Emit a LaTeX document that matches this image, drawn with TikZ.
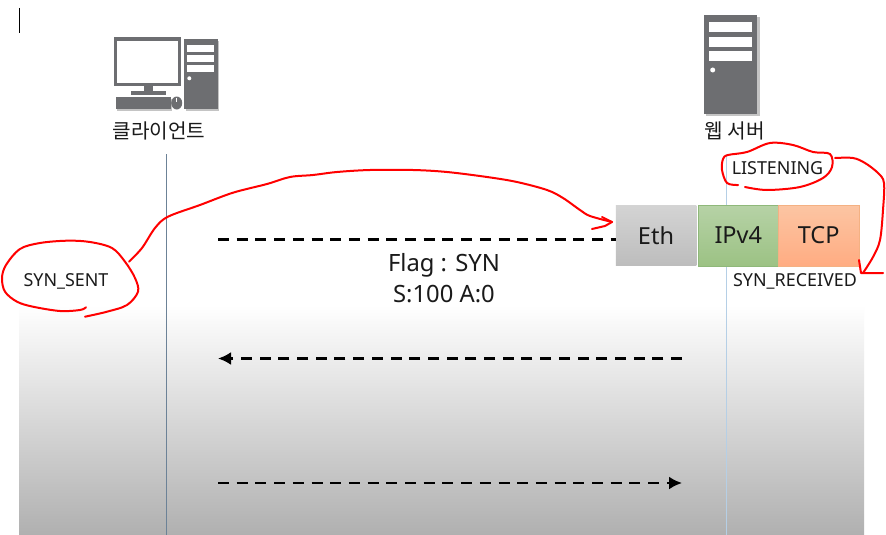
\documentclass[tikz,border=0pt]{standalone}
\usepackage{fontspec}
\setmainfont{Noto Sans}
\newfontfamily\krfont{Noto Sans CJK KR}
\usetikzlibrary{arrows.meta}
\definecolor{icongray}{HTML}{6D6E71}
\definecolor{iconshadow}{HTML}{C4C4C4}
\definecolor{txt}{HTML}{1A1A1A}
\definecolor{lifeL}{HTML}{6C8297}
\definecolor{lifeR}{HTML}{B5CFE6}
\definecolor{ipvtop}{HTML}{B6D2A6}
\definecolor{ipvbot}{HTML}{9CC284}
\definecolor{ipvline}{HTML}{8FB87A}
\definecolor{tcptop}{HTML}{FCC5A3}
\definecolor{tcpbot}{HTML}{FFAC82}
\definecolor{tcpline}{HTML}{F4B183}
\tikzset{
  x=1pt,y=-1pt,
  icon/.style={fill=icongray,draw=none},
  iconshadow/.style={fill=iconshadow,draw=none},
  slot/.style={fill=white,draw=none},
  label/.style={text=txt,inner sep=0pt,font=\fontsize{17.9}{21}\selectfont},
  bigtext/.style={text=txt,inner sep=0pt,font=\fontsize{23.8}{28}\selectfont},
  krtext/.style={text=txt,inner sep=0pt,font=\krfont\fontsize{20.2}{24}\selectfont},
  header/.style={minimum width=80.5pt,minimum height=60.5pt,inner sep=0pt,text=txt,font=\fontsize{23.5}{27}\selectfont},
  msg/.style={draw=black,line width=2.4pt,dash pattern=on 11pt off 7.7pt},
  tip/.style={-{Latex[length=13pt,width=13pt]}},
  redink/.style={draw=red,line width=2pt,line cap=round,line join=round},
}
\begin{document}
\begin{tikzpicture}
\useasboundingbox (0,0) rectangle (886,535);
\fill[white] (0,0) rectangle (886,535);
% gradient band
\shade[top color=white,bottom color=black!31] (19,305) rectangle (864,535);
% cursor
\draw[black,line width=1pt] (19.5,8) -- (19.5,33);
% lifelines
\coordinate (cTop) at (166.5,154); \coordinate (cBot) at (166.5,535);
\coordinate (sTop) at (726.5,154); \coordinate (sBot) at (726.5,535);
\draw[draw=lifeL,line width=1pt] (cTop) -- (cBot);
\draw[draw=lifeR,line width=1.2pt] (sTop) -- (sBot);
% client icon
\fill[iconshadow] (185.5,41) rectangle (219,110.5);
\fill[iconshadow] (117,99) rectangle (172,110.5);
\fill[icon] (114,36.7) rectangle (181,86);
\fill[slot] (117,41) rectangle (177.7,83);
\fill[icon] (144,86) rectangle (152.7,91);
\fill[icon] (130.7,90.7) rectangle (165.7,95);
\fill[icon] (115.7,97.3) rectangle (170.7,109);
\fill[icon] (176.7,103) ellipse [x radius=5.5pt,y radius=6.5pt];
\fill[slot] (176.2,98) rectangle (177.2,102);
\fill[icon] (184.3,39) rectangle (217.7,109);
\fill[slot] (186.7,45) rectangle (214,51.7);
\fill[slot] (186.7,55) rectangle (214,62.3);
\fill[slot] (186.7,65) rectangle (214,72.3);
\fill[slot] (189.3,78.3) circle [radius=2pt];
% server icon
\fill[iconshadow] (706,17) rectangle (759.5,116);
\fill[icon] (704,15) rectangle (757,114);
\fill[slot] (709,22.3) rectangle (752.3,32);
\fill[slot] (709,36.7) rectangle (752.3,46.7);
\fill[slot] (709,51) rectangle (752.3,60.7);
\fill[slot] (712.7,70) circle [radius=2.5pt];
% titles
\node[krtext] (client) at (159,130.5) {클라이언트};
\node[krtext] (server) at (735,130.5) {웹 서버};
% headers
\node[header,top color=black!17,bottom color=black!26] (eth) at (656,235.5) {Eth};
\node[header,top color=ipvtop,bottom color=ipvbot,draw=ipvline,line width=.5pt] (ipv4) at (738.3,235.5) {IPv4};
\node[header,top color=tcptop,bottom color=tcpbot,draw=tcpline,line width=.5pt] (tcp) at (818.7,235.5) {TCP};
% labels
\node[label] (listening) at (777.5,168) {LISTENING};
\node[label] (synrecv) at (795,281.5) {SYN\_RECEIVED};
\node[label] (synsent) at (66,281.5) {SYN\_SENT};
\node[bigtext] (flag) at (444,265) {Flag : SYN};
\node[bigtext] (seq) at (444,294) {S:100 A:0};
% messages
\coordinate (m1) at (218,239.5);
\coordinate (m2a) at (682,358.5); \coordinate (m2b) at (218,358.5);
\coordinate (m3a) at (218,483); \coordinate (m3b) at (682,483);
\draw[msg] (m1) -- (m1 -| eth.west);
\draw[msg,tip] (m2a) -- (m2b);
\draw[msg,tip] (m3a) -- (m3b);
% red ink
\draw[redink] plot[smooth,tension=.55] coordinates {(86,307.3) (80,310) (60,311) (33,306.7) (17,301.7) (5,291.7) (2,278) (6,265) (20,249) (40,243) (67,240.7) (90,242) (112,248) (125,261.7) (135,278) (138,291.7) (127,305) (107,311.7) (85,316.7)};
\draw[redink] plot[smooth,tension=.55] coordinates {(129,261.7) (142,248) (155,228) (168,216.7) (200,205) (233,192.7) (267,184) (290,177) (313,175) (337,172) (370,170) (413,170) (447,172) (487,177) (517,182) (547,190) (563,198) (580,210) (590,216) (612,222)};
\draw[redink] (602,217) -- (612,222) -- (605,226) -- (592,229);
\draw[redink] plot[smooth,tension=.55] coordinates {(738,185) (727,183) (722,170) (723,159) (728,155) (747,152) (770,143) (793,145) (813,152) (830,154) (832,167) (823,178) (800,187) (767,190) (745,187)};
\draw[redink] plot[smooth,tension=.55] coordinates {(835,158) (853,158) (865,163) (878,173) (884,183) (883,210) (880,240) (873,257) (863,273)};
\draw[redink] (859,260) -- (861,273) -- (883,273);
\end{tikzpicture}
\end{document}
